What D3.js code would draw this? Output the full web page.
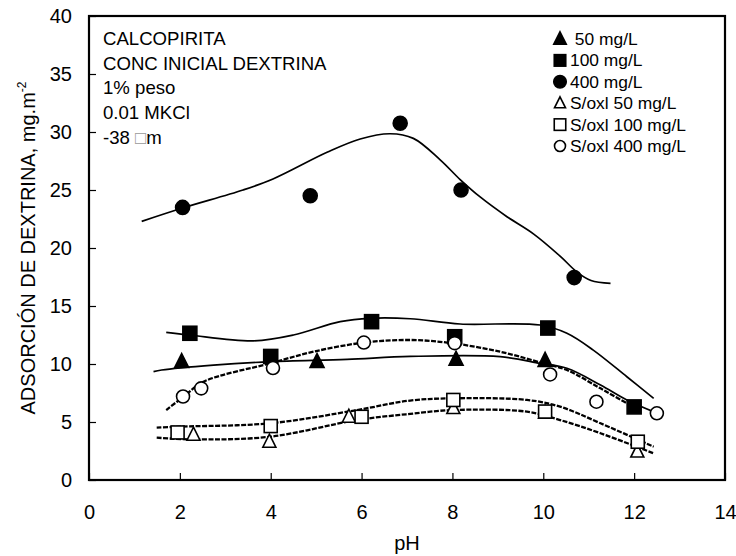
<!DOCTYPE html>
<html><head><meta charset="utf-8">
<script src="https://cdn.jsdelivr.net/npm/d3@7"></script>
<style>body{margin:0;background:#fff}svg{display:block}text{font-family:"Liberation Sans",Arial,sans-serif;fill:#000}</style>
</head><body><svg id="c" width="736" height="556"></svg>
<script>
const xTicks=[0,2,4,6,8,10,12,14];
const yTicks=[0,5,10,15,20,25,30,35,40];
const notes=["CALCOPIRITA","CONC INICIAL DEXTRINA","1% peso","0.01 MKCl","-38 \u25A1m"];
const legendLabels=[" 50 mg/L","100 mg/L","400 mg/L","S/oxl 50 mg/L","S/oxl 100 mg/L","S/oxl 400 mg/L"];
// measured points [pH, adsorption]
const f50=[[2.04,10.2],[5.02,10.2],[8.08,10.4],[10.04,10.3]];
const f100=[[2.22,12.65],[4.0,10.65],[6.22,13.65],[8.05,12.35],[10.1,13.1],[12.0,6.3]];
const f400=[[2.06,23.5],[4.87,24.5],[6.85,30.75],[8.19,25.0],[10.68,17.45]];
const o50=[[2.3,3.9],[3.97,3.3],[5.72,5.45],[8.02,6.2],[10.04,5.8],[12.07,2.45]];
const o100=[[1.95,4.1],[4.0,4.65],[6.0,5.45],[8.02,6.9],[10.04,5.9],[12.08,3.3]];
const o400=[[2.07,7.2],[2.47,7.9],[4.05,9.65],[6.05,11.85],[8.05,11.8],[10.15,9.1],[11.17,6.75],[12.5,5.75]];
// trend curves
const c50=[[1.42,9.34],[1.6,9.48],[2.74,9.9],[3.99,10.2],[5.68,10.4],[7.07,10.65],[9.05,10.63],[9.93,10.06],[10.52,9.63],[11.26,8.19],[11.84,6.9],[12.45,5.85]];
const c100=[[1.7,12.73],[2.22,12.5],[3.62,12.0],[4.5,12.5],[5.53,13.65],[6.19,13.94],[7.07,13.9],[8.17,13.45],[9.93,13.36],[10.52,12.65],[11.1,11.2],[11.84,8.9],[12.43,7.04]];
const c400=[[1.16,22.3],[2.06,23.45],[3.39,25.0],[4.05,25.95],[5.24,28.25],[5.97,29.4],[6.63,29.85],[7.14,29.45],[7.73,27.6],[8.17,25.9],[8.61,24.4],[9.2,22.7],[9.79,21.2],[10.37,19.3],[10.75,17.9],[11.05,17.2],[11.48,16.95]];
const co50=[[1.49,3.65],[2.3,3.5],[3.99,3.73],[5.9,5.17],[7.07,5.7],[8.02,6.03],[9.64,5.89],[10.37,5.17],[11.26,4.03],[12.43,2.3]];
const co100=[[1.49,4.51],[2.0,4.6],[3.99,4.89],[5.9,6.03],[7.07,6.85],[8.02,7.04],[9.64,6.9],[10.37,6.32],[11.26,4.89],[12.43,2.87]];
const co400=[[1.7,6.03],[2.08,7.18],[2.52,8.47],[3.99,10.06],[4.94,11.06],[6.04,11.84],[7.07,12.07],[8.02,11.78],[9.05,11.06],[10.0,10.06],[10.52,9.48],[11.26,7.9],[11.92,6.47],[12.1,6.2]];

const svg=d3.select("#c");
const L=89,R=725,T=16,B=480;
const x=d3.scaleLinear().domain([0,14]).range([L,R]);
const y=d3.scaleLinear().domain([0,40]).range([B,T]);
const FONT="Liberation Sans, Arial, sans-serif";

// axes (inside ticks)
const gx=svg.append("g").attr("transform",`translate(0,${B})`).call(d3.axisBottom(x).tickValues(xTicks).tickSize(-7).tickPadding(25).tickFormat(d3.format("d")));
const gy=svg.append("g").attr("transform",`translate(${L},0)`).call(d3.axisLeft(y).tickValues(yTicks).tickSize(-7).tickPadding(17).tickFormat(d3.format("d")));
[gx,gy].forEach(g=>{g.select(".domain").remove();g.selectAll("line").attr("stroke","#000").attr("stroke-width",1.2);g.selectAll("text").attr("font-size",20).attr("font-family",FONT).attr("fill","#000");});
svg.append("rect").attr("x",L).attr("y",T).attr("width",R-L).attr("height",B-T).attr("fill","none").attr("stroke","#000").attr("stroke-width",2.2);

svg.append("text").attr("x",(L+R)/2).attr("y",550).attr("text-anchor","middle").attr("font-size",20).text("pH");
const yt=svg.append("text").attr("transform",`translate(35,${248}) rotate(-90)`).attr("text-anchor","middle").attr("font-size",20);
yt.append("tspan").text("ADSORCIÓN DE DEXTRINA, mg.m");
yt.append("tspan").attr("font-size",12).attr("dy",-9).text("-2");

// curves
const line=d3.line().x(d=>x(d[0])).y(d=>y(d[1])).curve(d3.curveCatmullRom.alpha(0.5));
[c50,c100,c400].forEach(c=>svg.append("path").attr("d",line(c)).attr("fill","none").attr("stroke","#000").attr("stroke-width",1.7));
[co50,co100,co400].forEach(c=>svg.append("path").attr("d",line(c)).attr("fill","none").attr("stroke","#000").attr("stroke-width",2.3).attr("stroke-dasharray","5 1.5"));

// markers
function mark(g,type,cx,cy,s,filled){
  const sw=1.6;
  if(type==="tri"){g.append("path").attr("d",`M${cx},${cy-s*0.58}L${cx+s/2},${cy+s*0.42}L${cx-s/2},${cy+s*0.42}Z`).attr("fill",filled?"#000":"#fff").attr("stroke","#000").attr("stroke-width",sw).attr("stroke-linejoin","miter");}
  else if(type==="sq"){g.append("rect").attr("x",cx-s/2).attr("y",cy-s/2).attr("width",s).attr("height",s).attr("fill",filled?"#000":"#fff").attr("stroke","#000").attr("stroke-width",sw);}
  else {g.append("circle").attr("cx",cx).attr("cy",cy).attr("r",s/2).attr("fill",filled?"#000":"#fff").attr("stroke","#000").attr("stroke-width",sw);}
}
const series=[[f50,"tri",true],[f100,"sq",true],[f400,"cir",true],[o50,"tri",false],[o100,"sq",false],[o400,"cir",false]];
const gm=svg.append("g");
series.forEach(([pts,t,f])=>pts.forEach(p=>mark(gm,t,x(p[0]),y(p[1]),f?14:13,f)));

// notes
notes.forEach((t,i)=>{const tx=svg.append("text").attr("x",103).attr("y",45+i*24.7).attr("font-size",18.6);
  if(t.includes("\u25A1")){const parts=t.split("\u25A1");tx.append("tspan").text(parts[0]);tx.append("tspan").attr("fill","#999").text("\u25A1");tx.append("tspan").text(parts[1]);} else tx.text(t);});

// legend
const lg=svg.append("g");
legendLabels.forEach((t,i)=>{const ly=39+i*21.4;const s=series[i];
  mark(lg,s[1],560,ly,s[1]==="sq"?11.5:(s[2]?12.5:11),s[2]);
  lg.append("text").attr("x",570).attr("y",ly+6).attr("font-size",17.4).attr("xml:space","preserve").style("white-space","pre").text(t);});
</script></body></html>
